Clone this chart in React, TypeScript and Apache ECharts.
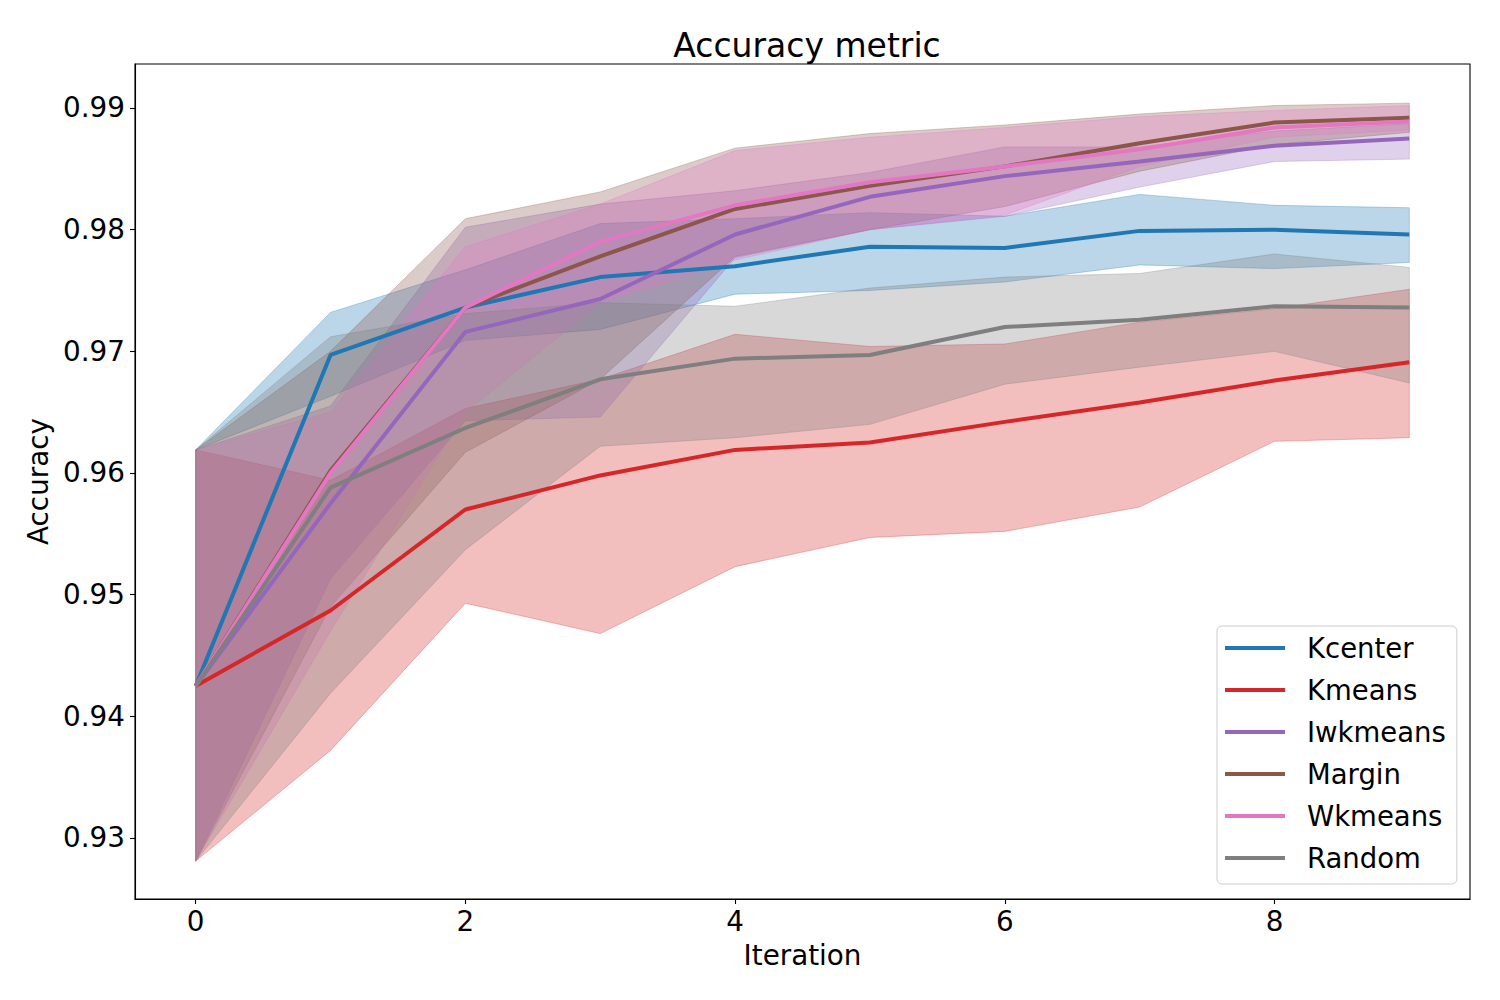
import React, { useEffect, useRef } from "react";
import * as echarts from "echarts";

const iterations = [0, 1, 2, 3, 4, 5, 6, 7, 8, 9];
const xTicks = [0, 2, 4, 6, 8];
const yTicks = [0.93, 0.94, 0.95, 0.96, 0.97, 0.98, 0.99];

const names = ["Kcenter", "Kmeans", "Iwkmeans", "Margin", "Wkmeans", "Random"];
const colors = ["#1f77b4", "#d62728", "#9467bd", "#8c564b", "#e377c2", "#7f7f7f"];

const kcenterMean = [0.9425, 0.9697, 0.9736, 0.9761, 0.977, 0.9786, 0.9785, 0.9799, 0.98, 0.9796];
const kcenterLow = [0.9619, 0.9663, 0.9709, 0.9718, 0.9747, 0.975, 0.9757, 0.9771, 0.9768, 0.9773];
const kcenterHigh = [0.9619, 0.9732, 0.9767, 0.9805, 0.9809, 0.9814, 0.9811, 0.9829, 0.982, 0.9818];

const kmeansMean = [0.9425, 0.9487, 0.957, 0.9598, 0.9619, 0.9625, 0.9642, 0.9658, 0.9676, 0.9691];
const kmeansLow = [0.9281, 0.9372, 0.9493, 0.9468, 0.9523, 0.9547, 0.9552, 0.9572, 0.9626, 0.9629];
const kmeansHigh = [0.9619, 0.9594, 0.9653, 0.9677, 0.9714, 0.9704, 0.9706, 0.9724, 0.9735, 0.9751];

const iwkmeansMean = [0.9425, 0.9575, 0.9716, 0.9743, 0.9796, 0.9827, 0.9844, 0.9856, 0.9869, 0.9875];
const iwkmeansLow = [0.9281, 0.9513, 0.9643, 0.9646, 0.9777, 0.98, 0.9811, 0.9835, 0.9856, 0.9858];
const iwkmeansHigh = [0.9619, 0.9655, 0.9802, 0.9821, 0.9832, 0.9847, 0.9868, 0.9868, 0.9881, 0.9887];

const marginMean = [0.9425, 0.9602, 0.9736, 0.9778, 0.9817, 0.9836, 0.9852, 0.9871, 0.9888, 0.9892];
const marginLow = [0.9281, 0.949, 0.9617, 0.9677, 0.9778, 0.98, 0.9819, 0.9848, 0.987, 0.988];
const marginHigh = [0.9619, 0.97, 0.9809, 0.9831, 0.9867, 0.9879, 0.9886, 0.9895, 0.9902, 0.9904];

const wkmeansMean = [0.9425, 0.96, 0.9736, 0.979, 0.982, 0.9839, 0.9852, 0.9866, 0.9884, 0.9889];
const wkmeansLow = [0.9281, 0.947, 0.965, 0.974, 0.9775, 0.98, 0.9812, 0.9852, 0.9876, 0.9882];
const wkmeansHigh = [0.9619, 0.965, 0.9786, 0.9821, 0.9865, 0.9876, 0.9884, 0.9893, 0.9898, 0.9902];

const randomMean = [0.9425, 0.9588, 0.9637, 0.9677, 0.9694, 0.9697, 0.972, 0.9726, 0.9737, 0.9736];
const randomLow = [0.9281, 0.9419, 0.9537, 0.9622, 0.9629, 0.964, 0.9673, 0.9687, 0.97, 0.9674];
const randomHigh = [0.9619, 0.9712, 0.9731, 0.974, 0.9737, 0.9752, 0.9761, 0.9764, 0.978, 0.9769];

const means = [kcenterMean, kmeansMean, iwkmeansMean, marginMean, wkmeansMean, randomMean];
const lows = [kcenterLow, kmeansLow, iwkmeansLow, marginLow, wkmeansLow, randomLow];
const highs = [kcenterHigh, kmeansHigh, iwkmeansHigh, marginHigh, wkmeansHigh, randomHigh];

const FONT = "DejaVu Sans";

function hexToRgba(hex: string, a: number) {
  const r = parseInt(hex.slice(1, 3), 16);
  const g = parseInt(hex.slice(3, 5), 16);
  const b = parseInt(hex.slice(5, 7), 16);
  return `rgba(${r},${g},${b},${a})`;
}

export default function App() {
  const ref = useRef<HTMLDivElement>(null);

  useEffect(() => {
    if (!ref.current) return;
    const chart = echarts.init(ref.current, undefined, { renderer: "svg" });

    const bandSeries = names.map((name, k) => ({
      name: name + " band",
      type: "custom",
      z: 1,
      silent: true,
      data: iterations.map((x, i) => [x, lows[k][i], highs[k][i]]),
      encode: { x: 0, y: [1, 2] },
      renderItem: (params: any, api: any) => {
        if (params.dataIndex !== 0) return null;
        const up = iterations.map((x, i) => api.coord([x, highs[k][i]]));
        const lo = iterations.map((x, i) => api.coord([x, lows[k][i]])).reverse();
        return {
          type: "polygon",
          shape: { points: up.concat(lo) },
          style: {
            fill: hexToRgba(colors[k], 0.3),
            stroke: hexToRgba(colors[k], 0.3),
            lineWidth: 1,
          },
        };
      },
    }));

    const lineSeries = names.map((name, k) => ({
      name,
      type: "line",
      z: 3,
      data: iterations.map((x, i) => [x, means[k][i]]),
      showSymbol: false,
      symbol: "none",
      color: colors[k],
      lineStyle: { color: colors[k], width: 4 },
    }));

    chart.setOption({
      animation: false,
      backgroundColor: "#ffffff",
      title: {
        text: "Accuracy metric",
        left: 802,
        textAlign: "center",
        top: 24,
        textStyle: { fontFamily: FONT, fontSize: 33, fontWeight: "normal", color: "#000" },
      },
      grid: {
        left: 135,
        right: 30,
        top: 64,
        bottom: 101,
        show: true,
        borderColor: "#000",
        borderWidth: 1.1,
        backgroundColor: "transparent",
      },
      legend: {
        data: names,
        orient: "vertical",
        left: 1217,
        top: 626,
        icon: "rect",
        itemWidth: 60,
        itemHeight: 4,
        itemGap: 14,
        padding: [8, 11, 12, 8],
        backgroundColor: "rgba(255,255,255,0.8)",
        borderColor: "#cccccc",
        borderWidth: 1,
        borderRadius: 5,
        textStyle: {
          fontFamily: FONT,
          fontSize: 27.5,
          color: "#000",
          lineHeight: 28,
          padding: [0, 0, 0, 17],
        },
      },
      xAxis: {
        type: "value",
        min: -0.45,
        max: 9.45,
        name: "Iteration",
        nameLocation: "middle",
        nameGap: 42,
        nameTextStyle: { fontFamily: FONT, fontSize: 27.8, color: "#000" },
        axisLine: { show: true, onZero: false, lineStyle: { color: "#000", width: 1.1 } },
        axisTick: { show: true, customValues: xTicks, length: 5, lineStyle: { color: "#000", width: 1.1 } },
        axisLabel: {
          customValues: xTicks,
          fontFamily: FONT,
          fontSize: 27.8,
          color: "#000",
          margin: 8,
          formatter: (v: number) => String(v),
        },
        splitLine: { show: false },
      },
      yAxis: {
        type: "value",
        min: 0.924986,
        max: 0.993616,
        name: "Accuracy",
        nameLocation: "middle",
        nameGap: 73,
        nameTextStyle: { fontFamily: FONT, fontSize: 27.8, color: "#000" },
        axisLine: { show: true, onZero: false, lineStyle: { color: "#000", width: 1.1 } },
        axisTick: { show: true, customValues: yTicks, length: 5, lineStyle: { color: "#000", width: 1.1 } },
        axisLabel: {
          customValues: yTicks,
          fontFamily: FONT,
          fontSize: 27.8,
          color: "#000",
          margin: 10,
          formatter: (v: number) => v.toFixed(2),
        },
        splitLine: { show: false },
      },
      series: [...bandSeries, ...lineSeries],
    });

    return () => chart.dispose();
  }, []);

  return (
    <div
      ref={ref}
      style={{ position: "fixed", left: 0, top: 0, width: 1500, height: 1000, background: "#fff" }}
    />
  );
}
